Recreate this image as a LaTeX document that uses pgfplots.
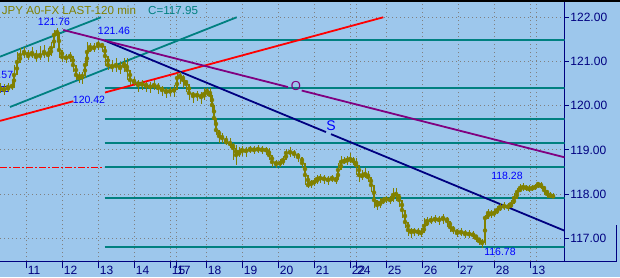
\documentclass[border=0pt]{standalone}
\usepackage{pgfplots}
\pgfplotsset{compat=1.18}
\usepackage{pgfplotstable}
\usepackage{fontspec}
\setmainfont{Liberation Sans}
\definecolor{bg}{RGB}{157,199,236}
\definecolor{olv}{RGB}{128,128,0}
\definecolor{tl}{RGB}{0,128,128}
\definecolor{nv}{RGB}{0,0,128}
\definecolor{pp}{RGB}{128,0,128}
\definecolor{rd}{RGB}{255,0,0}
\definecolor{bl}{RGB}{0,0,255}
\definecolor{gr}{RGB}{128,128,128}
\pgfplotstableread{
x o c h l
0 120.350 120.400 120.513 120.287
4 120.400 120.355 120.491 120.242
8 120.355 120.423 120.513 120.310
12 120.423 120.445 120.581 120.355
14 120.445 120.695 120.920 120.400
17 120.695 120.988 121.215 120.695
20 120.988 121.147 121.305 120.988
24 121.147 121.215 121.328 121.079
28 121.215 121.124 121.260 121.034
32 121.124 121.192 121.328 121.079
36 121.192 121.101 121.260 120.988
40 121.101 121.147 121.350 121.034
44 121.147 121.215 121.373 121.079
48 121.215 121.147 121.305 120.988
51 121.147 121.305 121.441 121.124
54 121.305 121.599 121.712 121.305
57 121.599 121.667 121.760 121.486
59 121.667 121.260 121.486 121.079
62 121.260 121.101 121.215 120.988
66 121.101 121.079 121.169 120.966
70 121.079 121.124 121.215 120.988
73 121.124 120.920 121.034 120.762
76 120.920 120.695 120.853 120.581
79 120.695 120.626 120.762 120.513
82 120.626 120.672 120.762 120.491
85 120.672 120.920 121.079 120.626
87 120.920 121.215 121.441 120.988
90 121.215 121.328 121.418 121.215
94 121.328 121.305 121.418 121.215
98 121.305 121.396 121.460 121.260
102 121.396 121.350 121.418 121.215
105 121.350 121.124 121.305 120.898
108 121.124 120.920 121.079 120.807
112 120.920 120.875 121.034 120.762
116 120.875 120.920 121.079 120.762
120 120.920 120.853 120.988 120.717
124 120.853 120.943 121.079 120.762
127 120.943 120.807 121.079 120.581
130 120.807 120.581 120.672 120.468
134 120.581 120.536 120.649 120.445
138 120.536 120.468 120.581 120.310
142 120.468 120.491 120.581 120.355
146 120.491 120.445 120.536 120.310
150 120.445 120.423 120.536 120.287
154 120.423 120.468 120.581 120.355
158 120.468 120.400 120.513 120.264
162 120.400 120.355 120.445 120.219
166 120.355 120.310 120.400 120.174
170 120.310 120.332 120.423 120.219
174 120.332 120.355 120.468 120.197
177 120.355 120.626 120.740 120.468
180 120.626 120.672 120.762 120.491
183 120.672 120.581 120.695 120.400
186 120.581 120.491 120.581 120.310
189 120.491 120.287 120.355 120.129
193 120.287 120.219 120.310 120.061
197 120.219 120.242 120.332 120.106
201 120.242 120.197 120.310 120.038
204 120.197 120.264 120.400 120.129
207 120.264 120.332 120.400 120.219
210 120.332 120.242 120.400 120.083
212 120.242 120.016 120.242 119.857
214 120.016 119.721 119.902 119.563
216 119.721 119.450 119.721 119.337
219 119.450 119.314 119.405 119.156
222 119.314 119.269 119.382 119.156
226 119.269 119.178 119.314 119.111
230 119.178 119.133 119.269 119.043
233 119.133 119.043 119.156 118.771
236 119.043 118.884 119.111 118.658
239 118.884 118.952 119.065 118.839
242 118.952 118.997 119.088 118.862
246 118.997 118.975 119.065 118.839
250 118.975 119.020 119.088 118.929
254 119.020 118.997 119.088 118.907
258 118.997 119.020 119.111 118.929
262 119.020 118.997 119.088 118.907
266 118.997 118.997 119.065 118.884
269 118.997 118.884 119.043 118.771
272 118.884 118.726 118.816 118.613
276 118.726 118.681 118.771 118.590
280 118.681 118.703 118.794 118.613
283 118.703 118.771 118.862 118.658
286 118.771 118.929 119.020 118.816
290 118.929 118.952 119.065 118.839
294 118.952 118.907 118.997 118.816
298 118.907 118.839 118.929 118.726
302 118.839 118.703 118.816 118.590
305 118.703 118.432 118.658 118.206
308 118.432 118.206 118.319 118.138
311 118.206 118.251 118.319 118.138
314 118.251 118.273 118.364 118.183
317 118.273 118.341 118.432 118.228
320 118.341 118.364 118.455 118.251
324 118.364 118.341 118.432 118.228
328 118.341 118.319 118.409 118.206
332 118.319 118.364 118.432 118.273
336 118.364 118.319 118.409 118.228
338 118.319 118.545 118.703 118.364
341 118.545 118.726 118.862 118.590
344 118.726 118.748 118.839 118.681
347 118.748 118.771 118.862 118.658
350 118.771 118.794 118.929 118.703
353 118.794 118.748 118.839 118.658
356 118.748 118.658 118.816 118.432
359 118.658 118.432 118.545 118.273
362 118.432 118.409 118.545 118.319
365 118.409 118.455 118.590 118.364
368 118.455 118.387 118.522 118.273
371 118.387 118.206 118.319 118.047
374 118.206 117.866 117.979 117.685
377 117.866 117.753 117.866 117.640
380 117.753 117.798 117.911 117.685
383 117.798 117.866 117.934 117.776
386 117.866 117.889 117.957 117.798
390 117.889 117.866 117.957 117.776
393 117.866 117.979 118.138 117.821
396 117.979 118.002 118.138 117.844
399 118.002 117.866 117.957 117.708
402 117.866 117.640 117.753 117.459
405 117.640 117.369 117.527 117.233
408 117.369 117.188 117.278 117.052
411 117.188 117.142 117.233 117.007
414 117.142 117.165 117.233 117.052
418 117.165 117.142 117.233 117.052
421 117.142 117.120 117.233 117.029
424 117.120 117.278 117.459 117.188
427 117.278 117.391 117.482 117.278
431 117.391 117.414 117.504 117.323
435 117.414 117.436 117.527 117.346
439 117.436 117.414 117.504 117.301
443 117.414 117.459 117.550 117.323
447 117.459 117.391 117.482 117.255
450 117.391 117.255 117.346 117.142
453 117.255 117.188 117.278 117.097
457 117.188 117.120 117.210 117.029
461 117.120 117.142 117.233 117.052
465 117.142 117.097 117.188 117.007
469 117.097 117.097 117.188 117.007
473 117.097 117.074 117.165 116.984
476 117.074 117.007 117.074 116.916
479 117.007 116.939 117.007 116.848
482 116.939 116.894 116.984 116.780
485 116.894 117.459 117.527 116.848
488 117.459 117.572 117.663 117.482
491 117.572 117.550 117.640 117.459
494 117.550 117.572 117.663 117.482
497 117.572 117.640 117.731 117.550
500 117.640 117.708 117.798 117.617
504 117.708 117.731 117.821 117.640
508 117.731 117.708 117.798 117.617
511 117.708 117.776 117.866 117.685
514 117.776 117.911 118.025 117.776
517 117.911 118.047 118.138 117.934
520 118.047 118.138 118.228 118.047
523 118.138 118.160 118.251 118.070
526 118.160 118.138 118.206 118.070
529 118.138 118.115 118.206 118.047
532 118.115 118.138 118.206 118.070
535 118.138 118.160 118.228 118.092
538 118.160 118.228 118.280 118.138
541 118.228 118.183 118.273 118.115
544 118.183 118.092 118.160 117.979
547 118.092 118.002 118.092 117.911
550 118.002 117.957 118.047 117.911
553 117.957 117.950 118.025 117.911
}\price
\begin{document}
\begin{tikzpicture}[x=1pt,y=1pt]
\fill[bg] (0pt,0pt) rectangle (620pt,277pt);
\begin{axis}[
  at={(0pt,16pt)}, anchor=south west,
  scale only axis, width=564.5pt, height=260pt,
  xmin=0, xmax=564.5, ymin=116.486, ymax=122.368,
  axis x line*=bottom, axis y line*=right,
  axis line style={nv, line width=1pt},
  clip mode=individual,
  tick align=outside,
  xtick={26.7,62.7,98.7,134.7,170.7,176,206.7,242.7,278.7,314.7,350.7,356,386.7,422.7,458.7,494.7,530.7},
  xticklabels={11,12,13,14,15,17,18,19,20,21,22,24,25,26,27,28,13},
  extra x ticks={536.7}, extra x tick labels={},
  extra x tick style={grid=major, tick style={draw=none}},
  ytick={117,118,119,120,121,122},
  x tick style={nv, line width=1pt, /pgfplots/major tick length=7pt},
  y tick style={nv, line width=1pt, /pgfplots/major tick length=4pt},
  grid=major,
  major grid style={gr, line width=0.8pt, dash pattern=on 1pt off 3pt},
  xticklabel style={anchor=north west, inner sep=0pt, xshift=1pt, yshift=-0.8pt, text=nv, font=\fontsize{12}{14}\selectfont},
  yticklabel style={anchor=west, inner sep=0pt, xshift=1.5pt, text=nv, font=\fontsize{12}{14}\selectfont,
    /pgf/number format/.cd, fixed, fixed zerofill, precision=2, assume math mode=true},
]
% horizontal teal levels
\addplot[tl, line width=2pt] coordinates {(104.5,121.486) (564.5,121.486)};
\addplot[tl, line width=2pt] coordinates {(104.5,120.400) (564.5,120.400)};
\addplot[tl, line width=2pt] coordinates {(104.5,119.706) (564.5,119.706)};
\addplot[tl, line width=2pt] coordinates {(104.5,119.163) (564.5,119.163)};
\addplot[tl, line width=2pt] coordinates {(104.5,118.620) (564.5,118.620)};
\addplot[tl, line width=2pt] coordinates {(104.5,117.918) (564.5,117.918)};
\addplot[tl, line width=2pt] coordinates {(104.5,116.810) (564.5,116.810)};
\addplot[rd, line width=1pt, dash pattern=on 7pt off 2pt on 2pt off 2pt] coordinates {(0,118.606) (104,118.606)};
% channel / trend lines
\addplot[tl, line width=1.8pt] coordinates {(0,121.108) (101,122.0)};
\addplot[tl, line width=1.8pt] coordinates {(10,119.970) (236.7,122.0)};
\addplot[rd, line width=1.8pt] coordinates {(0,119.656) (73.3,120.10)};
\addplot[rd, line width=1.8pt] coordinates {(105,120.298) (383.3,122.0)};
\addplot[nv, line width=1.8pt] coordinates {(103.3,121.486) (326,119.403)};
\addplot[nv, line width=1.8pt] coordinates {(331,119.356) (564.5,117.172)};
\addplot[pp, line width=1.8pt] coordinates {(63.3,121.712) (288,120.421)};
\addplot[pp, line width=1.8pt] coordinates {(301.7,120.342) (564.5,118.832)};
\addplot[bl, line width=1pt] coordinates {(0,120.44) (7.5,120.44)};
\addplot[bl, line width=1pt] coordinates {(0,120.33) (7.5,120.33)};
% price bars: wicks
\addplot[olv, only marks, mark=none, error bars/.cd, y dir=both, y explicit, error mark=none,
  error bar style={olv, line width=1pt}]
  table[x=x, y=c, y error plus expr=\thisrow{h}-\thisrow{c}, y error minus expr=\thisrow{c}-\thisrow{l}] {\price};
% price bars: bodies (open to close)
\addplot[olv, only marks, mark=none, error bars/.cd, y dir=both, y explicit, error mark=none,
  error bar style={olv, line width=2.4pt}]
  table[x=x, y expr=(\thisrow{o}+\thisrow{c})/2, y error expr={abs(\thisrow{o}-\thisrow{c})/2+0.01}] {\price};
% labels
\begin{scope}[every node/.style={inner sep=0pt, font=\fontsize{10.5}{12}\selectfont, text=bl}]
\node at (axis cs:54,121.893) {121.76};
\node at (axis cs:114,121.690) {121.46};
\node at (axis cs:89,120.129) {120.42};
\node at (axis cs:507,118.409) {118.28};
\node at (axis cs:500,116.701) {116.78};
\node[anchor=east] at (axis cs:13.3,120.695) {120.57};
\end{scope}
\node[inner sep=0pt, text=bl, font=\fontsize{14}{16}\selectfont] at (axis cs:331,119.54) {S};
\node[inner sep=0pt, text=pp, font=\fontsize{13}{15}\selectfont] at (axis cs:296,120.445) {O};
\end{axis}
\draw[black, line width=1.6pt] (0pt,276.2pt) -- (620pt,276.2pt);
\draw[nv, line width=1pt] (564pt,16pt) -- (617pt,16pt);
\draw[nv, line width=1pt] (616.7pt,16pt) -- (616.7pt,52pt);
\node[anchor=base west, inner sep=0pt, text=olv, font=\fontsize{11.6}{13}\selectfont] at (1.7pt,263pt) {JPY A0-FX LAST-120 min};
\node[anchor=base west, inner sep=0pt, text=tl, font=\fontsize{11.6}{13}\selectfont] at (148pt,263pt) {C=117.95};
\pgfresetboundingbox
\useasboundingbox (0pt,0pt) rectangle (620pt,277pt);
\end{tikzpicture}
\end{document}
